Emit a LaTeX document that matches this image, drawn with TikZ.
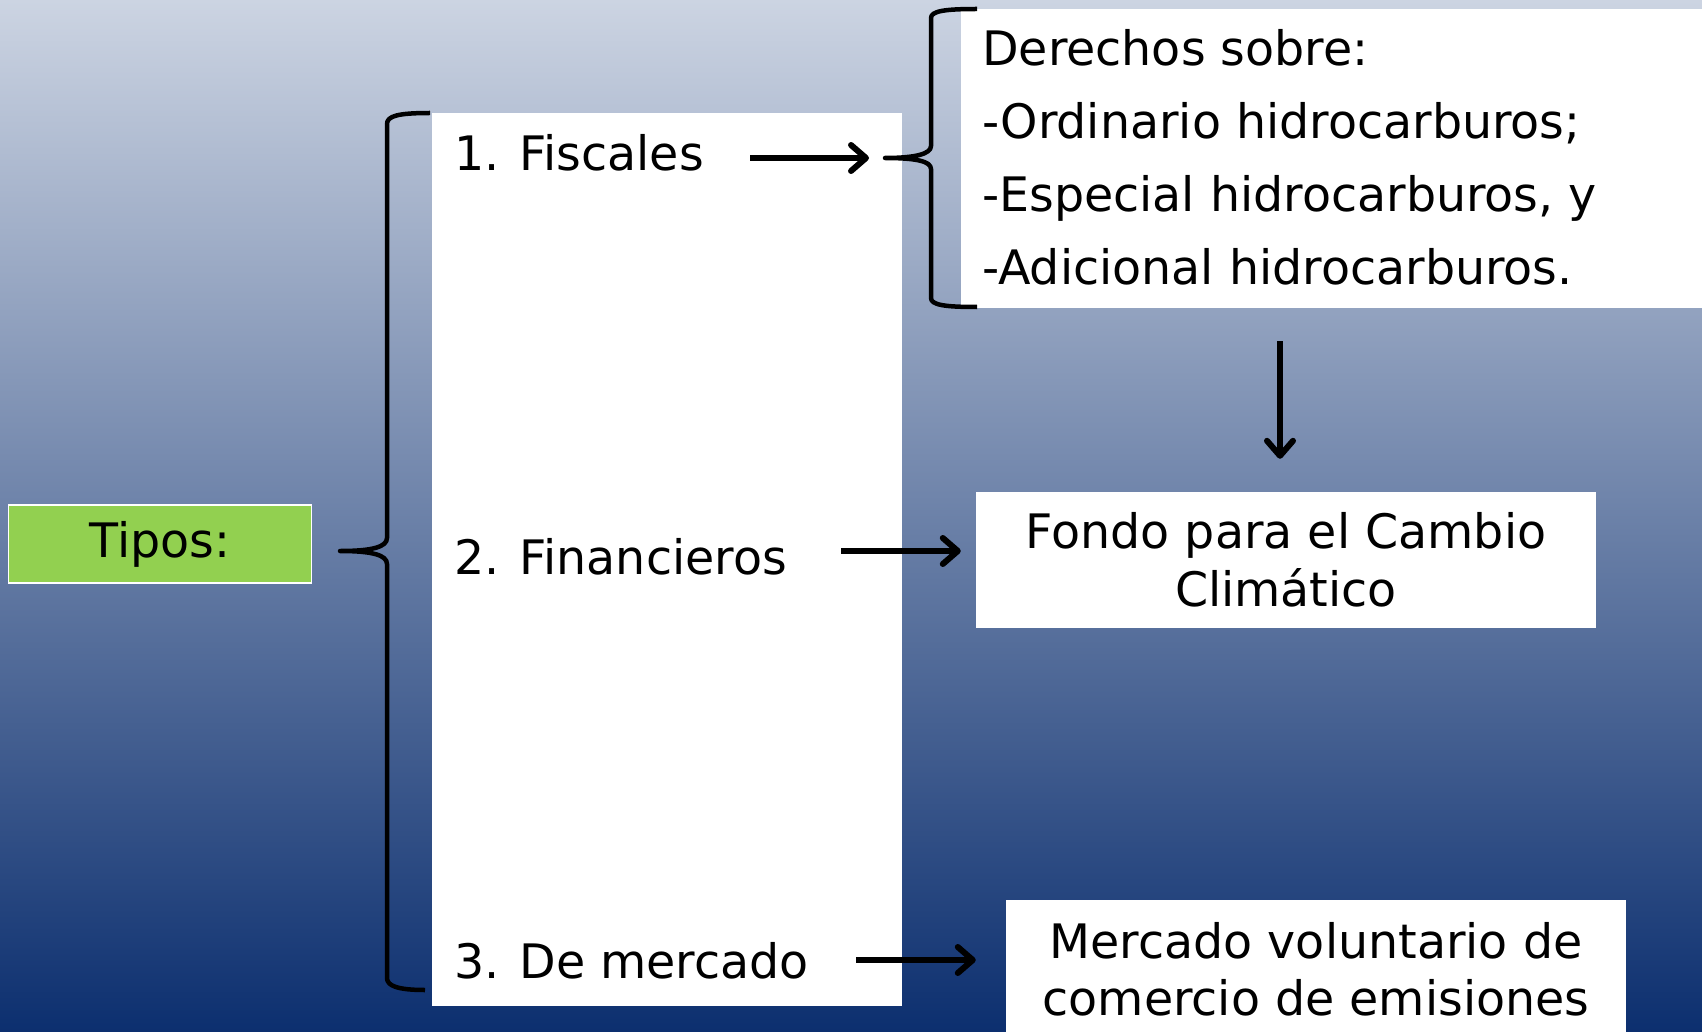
\documentclass[tikz,border=0pt]{standalone}
\usepackage{fontspec}
\setmainfont{DejaVu Sans}
\usetikzlibrary{arrows.meta,calc}
\definecolor{bgtop}{RGB}{204,212,226}
\definecolor{bgbot}{RGB}{12,47,111}
\definecolor{tgreen}{RGB}{146,208,80}
\begin{document}
\begin{tikzpicture}[x=1pt,y=-1pt, font=\fontsize{47.5}{57.5}\selectfont,
  arr/.style={line width=6pt, -{Straight Barb[length=15pt,width=26pt,line width=6pt,round]}},
  brc/.style={line width=4.5pt, line join=round},
  wbox/.style={fill=white, inner sep=0pt, draw=none},
  txt/.style={anchor=base west, inner sep=0pt}]
\shade[top color=bgtop, bottom color=bgbot] (0,0) rectangle (1702,1032);
\useasboundingbox (0,0) rectangle (1702,1032);

% tall column box
\node[wbox, minimum width=470pt, minimum height=893pt, anchor=north west] (col) at (432,113) {};
\node[txt] (f1) at (454,171) {1. Fiscales};
\node[txt] (f2) at (454,574) {2. Financieros};
\node[txt] (f3) at (454,978) {3. De mercado};

% Tipos
\node[fill=tgreen, draw=white, line width=1.5pt, minimum width=303pt, minimum height=78pt, inner sep=0pt] (tipos) at (160,544) {Tipos:};

% top right box
\node[wbox, anchor=north west, minimum width=741pt, minimum height=299pt] (der) at (961,9) {};
\node[txt] (d1) at (982,66) {Derechos sobre:};
\node[txt] (d2) at (982,139) {-Ordinario hidrocarburos;};
\node[txt] (d3) at (982,212) {-Especial hidrocarburos, y};
\node[txt] (d4) at (982,285) {-Adicional hidrocarburos.};

% result boxes
\node[wbox, minimum width=620pt, minimum height=136pt, align=center] (fondo) at (1286,560) {Fondo para el Cambio\\Climático};
\node[wbox, minimum width=620pt, minimum height=139pt, align=center] (merc) at (1316,969.5) {Mercado voluntario de\\comercio de emisiones};

% big brace
\coordinate (btip) at (340,551);
\draw[brc] (430,113) .. controls (398,113) and (387,116) .. (387,124) -- (387,538)
  .. controls (387,547) and (372,551) .. (btip)
  .. controls (372,551) and (387,555) .. (387,564) -- (387,978)
  .. controls (387,986) and (398,990) .. (425,990);

% small brace
\coordinate (stip) at (885,158);
\draw[brc] (977,9) .. controls (945,9) and (931,11) .. (931,18) -- (931,146)
  .. controls (931,154) and (915,158) .. (stip)
  .. controls (915,158) and (931,161) .. (931,169) -- (931,298)
  .. controls (931,305) and (945,307) .. (977,307);

% arrows
\coordinate (a1s) at (750,158);
\coordinate (a2s) at (841,551);
\coordinate (a3s) at (856,960);
\coordinate (v1) at (1280,341);
\draw[arr] (a1s) -- ($(stip |- a1s)+(-16,0)$);
\draw[arr] (a2s) -- ($(fondo.west |- a2s)+(-15,0)$);
\draw[arr] (a3s) -- ($(merc.west |- a3s)+(-30,0)$);
\draw[arr] (v1) -- ($(v1 |- fondo.north)+(0,-33)$);
\end{tikzpicture}
\end{document}
